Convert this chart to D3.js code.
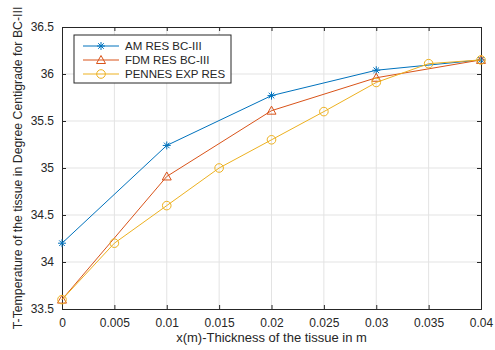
<!DOCTYPE html>
<html>
<head>
<meta charset="utf-8">
<script src="https://cdn.jsdelivr.net/npm/d3@7"></script>
<style>
  body { margin: 0; background: #fff; }
  svg { font-family: "Liberation Sans", Arial, sans-serif; }
</style>
</head>
<body>
<div id="chart"></div>
<script>
// Series
const amX = [0, 0.01, 0.02, 0.03, 0.04];
const amT = [34.2, 35.24, 35.77, 36.04, 36.15];
const fdmX = [0, 0.01, 0.02, 0.03, 0.04];
const fdmT = [33.6, 34.91, 35.61, 35.96, 36.15];
const pennesX = [0, 0.005, 0.01, 0.015, 0.02, 0.025, 0.03, 0.035, 0.04];
const pennesT = [33.6, 34.2, 34.6, 35.0, 35.3, 35.6, 35.91, 36.11, 36.15];

const xTicks = [0, 0.005, 0.01, 0.015, 0.02, 0.025, 0.03, 0.035, 0.04];
const yTicks = [33.5, 34, 34.5, 35, 35.5, 36, 36.5];
const seriesNames = ["AM RES BC-III", "FDM RES BC-III", "PENNES EXP RES"];
const seriesColors = ["#0072BD", "#D95319", "#EDB120"];

const width = 495, height = 350;
const margin = {top: 27, right: 14, bottom: 41, left: 62};
const w = width - margin.left - margin.right;
const h = height - margin.top - margin.bottom;

const svg = d3.select("#chart").append("svg")
              .attr("width", width)
              .attr("height", height);
const g = svg.append("g")
             .attr("transform", "translate(" + margin.left + "," + margin.top + ")");

const xScale = d3.scaleLinear().domain([0, 0.04]).range([0, w]);
const yScale = d3.scaleLinear().domain([33.5, 36.5]).range([h, 0]);

// Grid
g.append("g").selectAll("line").data(xTicks.slice(1, -1)).enter().append("line")
 .attr("x1", d => xScale(d)).attr("x2", d => xScale(d))
 .attr("y1", 0).attr("y2", h)
 .attr("stroke", "#e3e3e3").attr("stroke-width", 1);
g.append("g").selectAll("line").data(yTicks.slice(1, -1)).enter().append("line")
 .attr("y1", d => yScale(d)).attr("y2", d => yScale(d))
 .attr("x1", 0).attr("x2", w)
 .attr("stroke", "#e3e3e3").attr("stroke-width", 1);

// Axes (ticks pointing inward, MATLAB style)
const xAxis = g.append("g").attr("transform", "translate(0," + h + ")")
               .call(d3.axisBottom(xScale).tickValues(xTicks).tickSize(-4).tickPadding(9)
                       .tickFormat(d => d3.format("")(+d.toFixed(3))));
const yAxis = g.append("g")
               .call(d3.axisLeft(yScale).tickValues(yTicks).tickSize(-4).tickPadding(8)
                       .tickFormat(d => String(d)));
const xTop = g.append("g")
              .call(d3.axisTop(xScale).tickValues(xTicks).tickSize(-4).tickFormat(""));
const yRight = g.append("g").attr("transform", "translate(" + w + ",0)")
                .call(d3.axisRight(yScale).tickValues(yTicks).tickSize(-4).tickFormat(""));
[xAxis, yAxis, xTop, yRight].forEach(a => {
    a.select(".domain").attr("stroke", "#262626");
    a.selectAll(".tick line").attr("stroke", "#262626");
    a.selectAll("text").attr("fill", "#262626").style("font-size", "12px");
});

// Axis labels
svg.append("text")
   .attr("x", margin.left + w / 2).attr("y", 342)
   .attr("text-anchor", "middle")
   .attr("fill", "#262626").style("font-size", "13px")
   .text("x(m)-Thickness of the tissue in m");
svg.append("text")
   .attr("transform", "translate(22," + (margin.top + h / 2) + ") rotate(-90)")
   .attr("text-anchor", "middle")
   .attr("fill", "#262626").style("font-size", "12.3px")
   .text("T-Temperature of the tissue in Degree Centigrade for BC-III");

// Marker drawing
function drawMarker(sel, kind, color) {
    if (kind === 0) {
        const r = 4;
        sel.append("path")
           .attr("d", "M" + (-r) + ",0H" + r + "M0," + (-r) + "V" + r +
                      "M" + (-r * 0.7) + "," + (-r * 0.7) + "L" + (r * 0.7) + "," + (r * 0.7) +
                      "M" + (-r * 0.7) + "," + (r * 0.7) + "L" + (r * 0.7) + "," + (-r * 0.7))
           .attr("stroke", color).attr("stroke-width", 1).attr("fill", "none");
    } else if (kind === 1) {
        sel.append("path")
           .attr("d", "M0,-4.5L4.5,3.5L-4.5,3.5Z")
           .attr("stroke", color).attr("stroke-width", 1).attr("fill", "none");
    } else {
        sel.append("circle").attr("r", 4.3)
           .attr("stroke", color).attr("stroke-width", 1).attr("fill", "none");
    }
}

const series = [
    {xs: amX, ys: amT},
    {xs: fdmX, ys: fdmT},
    {xs: pennesX, ys: pennesT}
];

const line = d3.line().x(d => xScale(d[0])).y(d => yScale(d[1]));
series.forEach((s, i) => {
    const pts = s.xs.map((x, j) => [x, s.ys[j]]);
    g.append("path").datum(pts)
     .attr("d", line)
     .attr("fill", "none")
     .attr("stroke", seriesColors[i])
     .attr("stroke-width", 1);
    pts.forEach(p => {
        const m = g.append("g").attr("transform", "translate(" + xScale(p[0]) + "," + yScale(p[1]) + ")");
        drawMarker(m, i, seriesColors[i]);
    });
});

// Legend
const legend = svg.append("g").attr("transform", "translate(74,35)");
legend.append("rect")
      .attr("width", 157).attr("height", 48)
      .attr("fill", "#fff").attr("stroke", "#262626").attr("stroke-width", 1);
seriesNames.forEach((name, i) => {
    const yy = 11 + i * 14;
    legend.append("line")
          .attr("x1", 9).attr("x2", 45).attr("y1", yy).attr("y2", yy)
          .attr("stroke", seriesColors[i]).attr("stroke-width", 1);
    drawMarker(legend.append("g").attr("transform", "translate(27," + yy + ")"), i, seriesColors[i]);
    legend.append("text")
          .attr("x", 51).attr("y", yy + 4)
          .attr("fill", "#262626").style("font-size", "11.5px")
          .text(name);
});
</script>
</body>
</html>
